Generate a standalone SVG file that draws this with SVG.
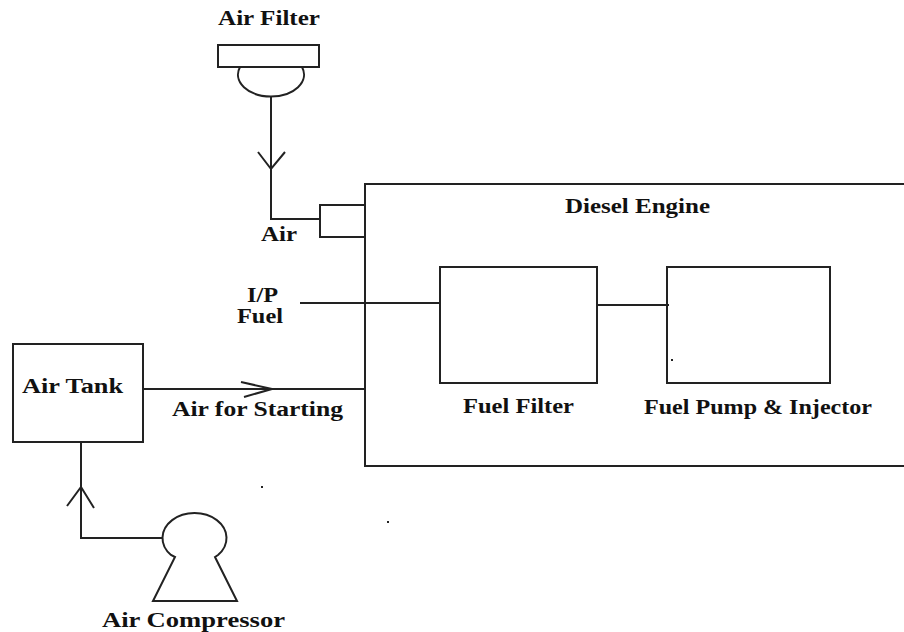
<svg xmlns="http://www.w3.org/2000/svg" width="904" height="632" viewBox="0 0 904 632">
<style>
.s{fill:none;stroke:#222;stroke-width:2}
.t{font-weight:700;font-size:20px;fill:#111}
</style>
<rect width="904" height="632" fill="#fff"/>
<g font-family="Liberation Serif, Times New Roman, serif">
<g id="air-filter">
<text class="t" x="218" y="25" textLength="102" lengthAdjust="spacingAndGlyphs">Air Filter</text>
<rect class="s" x="218" y="45" width="101" height="22"/>
<path class="s" d="M240 67 A33 22 0 1 0 302 67"/>
</g>
<g id="diesel-engine">
<rect class="s" x="365" y="184" width="560" height="282"/>
<text class="t" x="565" y="213" textLength="145" lengthAdjust="spacingAndGlyphs">Diesel Engine</text>
<rect class="s" x="320" y="205" width="45" height="32"/>
</g>
<g id="fuel-filter">
<rect class="s" x="440" y="267" width="157" height="116"/>
<text class="t" x="463" y="413" textLength="111" lengthAdjust="spacingAndGlyphs">Fuel Filter</text>
</g>
<g id="fuel-pump">
<rect class="s" x="667" y="267" width="163" height="116"/>
<text class="t" x="644" y="414" textLength="228" lengthAdjust="spacingAndGlyphs">Fuel Pump &amp; Injector</text>
</g>
<g id="air-tank">
<rect class="s" x="13" y="344" width="130" height="98"/>
<text class="t" x="22" y="393" textLength="101" lengthAdjust="spacingAndGlyphs">Air Tank</text>
</g>
<g id="air-compressor">
<path class="s" d="M171 555 A32 25 0 1 1 218 555 L215 557 L237 601 L153 601 L175 557 Z"/>
<text class="t" x="102" y="627" textLength="183" lengthAdjust="spacingAndGlyphs">Air Compressor</text>
</g>
<g id="connectors">
<polyline class="s" points="271,97 271,219 320,219"/>
<polyline class="s" points="258,152 271,169 285,152"/>
<line class="s" x1="300" y1="303" x2="440" y2="303"/>
<line class="s" x1="597" y1="305" x2="669" y2="305"/>
<line class="s" x1="143" y1="389" x2="365" y2="389"/>
<polyline class="s" points="241,382 272,389 244,397"/>
<polyline class="s" points="81,442 81,538 162,538"/>
<polyline class="s" points="67,506 81,487 94,508"/>
</g>
<g id="labels">
<text class="t" x="261" y="241" textLength="36" lengthAdjust="spacingAndGlyphs">Air</text>
<text class="t" x="247" y="302" textLength="31" lengthAdjust="spacingAndGlyphs">I/P</text>
<text class="t" x="237" y="323" textLength="46" lengthAdjust="spacingAndGlyphs">Fuel</text>
<text class="t" x="172" y="416" textLength="171" lengthAdjust="spacingAndGlyphs">Air for Starting</text>
</g>
<g id="dots" fill="#222">
<rect x="261" y="486" width="2" height="2"/>
<rect x="387" y="521" width="2" height="2"/>
<rect x="671" y="359" width="2" height="2"/>
</g>
</g>
</svg>
